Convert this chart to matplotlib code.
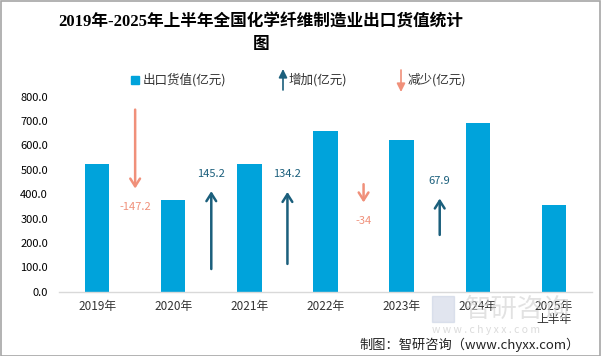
import numpy as np
import matplotlib
matplotlib.use("Agg")
import matplotlib.pyplot as plt
from matplotlib.patches import Rectangle

plt.rcParams['font.family'] = ['Noto Sans CJK SC', 'DejaVu Sans']

# data
years = ["2019年", "2020年", "2021年", "2022年", "2023年", "2024年", "2025年\n上半年"]
export_value = [525.4, 378.2, 523.4, 657.6, 623.6, 691.5, 356.5]
changes = [-147.2, 145.2, 134.2, -34, 67.9]
change_labels = ["-147.2", "145.2", "134.2", "-34", "67.9"]
arrow_tail = [747, 93, 114, 441, 233]

BAR_C = "#00a3db"
UP_C = "#1b5f7c"
DOWN_C = "#f0907a"
ARROW_SCALE = 2.2

fig = plt.figure(figsize=(6.01, 3.56), dpi=100)
W, H = 601, 356
ax = fig.add_axes([59 / W, 1 - 291.7 / H, (592 - 59) / W, (291.7 - 96.7) / H])

x = np.arange(len(years))
ax.bar(x, export_value, width=0.32, color=BAR_C, zorder=2)

for i, (ch, lab, tail) in enumerate(zip(changes, change_labels, arrow_tail)):
    xp = i + 0.5
    head = tail + ch * ARROW_SCALE
    c = UP_C if ch > 0 else DOWN_C
    ax.annotate("", xy=(xp, head), xytext=(xp, tail),
                arrowprops=dict(arrowstyle="->,head_length=0.55,head_width=0.35",
                                color=c, lw=1.8, shrinkA=0, shrinkB=0), zorder=3)
    ly = head + 72 if ch > 0 else head - 75
    ax.text(xp, ly, lab, color=c, fontsize=8, ha="center", va="center")

ax.set_xlim(-0.5, len(years) - 0.5)
ax.set_ylim(0, 800)
ax.set_yticks(np.arange(0, 801, 100))
ax.set_yticklabels([f"{v:.1f}" for v in np.arange(0, 801, 100)], fontsize=8)
ax.set_xticks(x)
ax.set_xticklabels(years, fontsize=8.5, color="#333333", linespacing=1.0)
ax.tick_params(axis="both", length=0, pad=6)
ax.tick_params(axis="y", pad=8)
for s in ["top", "right", "left"]:
    ax.spines[s].set_visible(False)
ax.spines["bottom"].set_color("#d9d9d9")
ax.spines["bottom"].set_linewidth(1.0)

# title
fig.text(261 / W, 1 - 22 / H, "2019年-2025年上半年全国化学纤维制造业出口货值统计",
         ha="center", va="center", fontsize=12, fontweight="bold",
         family=["Liberation Serif", "Noto Sans CJK SC"])
fig.text(261 / W, 1 - 45 / H, "图", ha="center", va="center", fontsize=12,
         fontweight="bold", family=["Liberation Serif", "Noto Sans CJK SC"])

# legend
ly = 1 - 80 / H
fig.patches.append(Rectangle((131 / W, 1 - 84 / H), 8 / W, 8 / H,
                             transform=fig.transFigure, color=BAR_C))
fig.text(143 / W, ly, "出口货值(亿元)", fontsize=9, va="center", color="#333333")
ax.annotate("", xy=(283 / W, 1 - 69 / H), xytext=(283 / W, 1 - 90 / H),
            xycoords="figure fraction", textcoords="figure fraction",
            arrowprops=dict(arrowstyle="-|>,head_length=0.5,head_width=0.25",
                            color=UP_C, lw=1.2, shrinkA=0, shrinkB=0))
fig.text(289 / W, ly, "增加(亿元)", fontsize=9, va="center", color="#333333")
ax.annotate("", xy=(401 / W, 1 - 92 / H), xytext=(401 / W, 1 - 70 / H),
            xycoords="figure fraction", textcoords="figure fraction",
            arrowprops=dict(arrowstyle="-|>,head_length=0.5,head_width=0.25",
                            color=DOWN_C, lw=1.2, shrinkA=0, shrinkB=0))
fig.text(408 / W, ly, "减少(亿元)", fontsize=9, va="center", color="#333333")

# watermark
fig.text(465 / W, 1 - 309 / H, "智研咨询", fontsize=19, color="#d0d0d0",
         alpha=0.6, va="center", zorder=0)
fig.patches.append(Rectangle((432 / W, 1 - 322 / H), 22 / W, 26 / H,
                             transform=fig.transFigure, color="#c4cde0",
                             alpha=0.5, zorder=0))
fig.text(432 / W, 1 - 330 / H, "w w w . c h y x x . c o m", fontsize=7.5,
         color="#cccccc", alpha=0.7, va="center", zorder=0)

# source
fig.text(580 / W, 1 - 345 / H, "制图：智研咨询（www.chyxx.com）", fontsize=9.5,
         ha="right", va="center", color="#222222")

# frame
fig.patches.append(Rectangle((0.5 / W, 0.5 / H), 1 - 1.5 / W, 1 - 1.5 / H,
                             transform=fig.transFigure, fill=False,
                             edgecolor="#a6a6a6", lw=1.2))

fig.savefig("out.png", dpi=100)
